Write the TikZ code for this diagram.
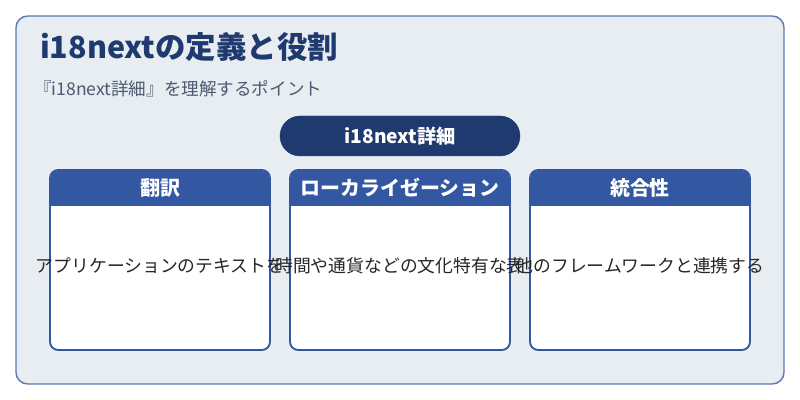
\documentclass[tikz,border=0pt]{standalone}
\usepackage{fontspec}
\setmainfont{Noto Sans CJK JP}
\usetikzlibrary{positioning}
\definecolor{bgpanel}{HTML}{E8EDF2}
\definecolor{framecol}{HTML}{5B77AE}
\definecolor{navy}{HTML}{1F3A6E}
\definecolor{cardblue}{HTML}{3357A0}
\definecolor{subgray}{HTML}{4A5A70}
\begin{document}
\begin{tikzpicture}[x=0.03cm, y=-0.03cm,
  cardhead/.style={font=\fontsize{17}{19}\selectfont\bfseries, text=white},
  cardtext/.style={font=\fontsize{15.2}{17}\selectfont, text=black!85}]
  \useasboundingbox (0,0) rectangle (800,400);
  % panel
  \fill[white] (0,0) rectangle (800,400);
  \draw[framecol, fill=bgpanel, line width=1.2pt, rounded corners=10pt] (16,16) rectangle (784,384);
  % title
  \node[anchor=west, text=navy, font=\fontsize{26}{28}\selectfont\bfseries] (title) at (36,47) {i18nextの定義と役割};
  \node[anchor=west, text=subgray, font=\fontsize{15}{17}\selectfont] (subtitle) at (30,89) {『i18next詳細』を理解するポイント};
  % pill
  \draw[navy, fill=navy, rounded corners=0.6cm] (280,116) rectangle (520,156);
  \node[text=white, font=\fontsize{16.4}{18}\selectfont\bfseries] (pill) at (400,136) {i18next詳細};
  % cards
  \foreach \x/\head/\body/\nm in {50/翻訳/アプリケーションのテキストを/trans,
      290/ローカライゼーション/時間や通貨などの文化特有な表/local,
      530/統合性/他のフレームワークと連携する/integ}{
    \draw[cardblue, fill=white, line width=1.6pt, rounded corners=7pt] (\x,170) rectangle ++(220,180);
    \fill[cardblue, rounded corners=7pt] (\x,170) rectangle ++(220,36);
    \fill[cardblue] (\x,195) rectangle ++(220,11);
    \node[cardhead] (\nm head) at (\x+110,188) {\head};
    \node[cardtext] (\nm body) at (\x+110,266) {\body};
  }
\end{tikzpicture}
\end{document}
